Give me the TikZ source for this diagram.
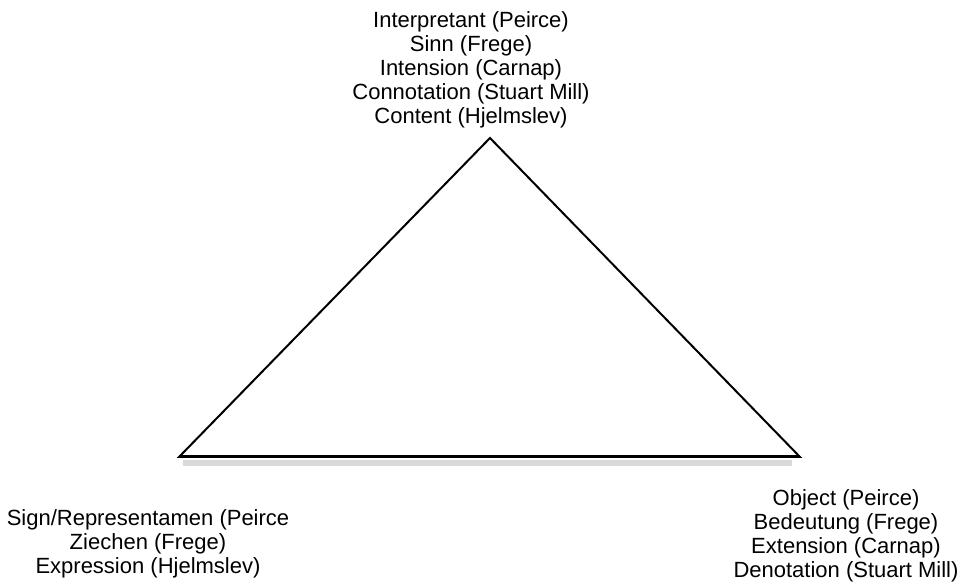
\documentclass[tikz,border=0pt]{standalone}
\usepackage{fontspec}
\setmainfont{Liberation Sans}
\tikzset{
  corner/.style={align=center, anchor=base, inner sep=0pt,
    font=\fontsize{22}{24}\selectfont},
}
\begin{document}
\begin{tikzpicture}[x=1pt,y=-1pt]
    \useasboundingbox (0,0) rectangle (962,585);
    % corners of the triangle
    \coordinate (apex) at (490,138);
    \coordinate (left) at (179,457);
    \coordinate (right) at (800,457);
    % shadow under the base
    \draw[gray!30, line width=5pt] ([xshift=4pt,yshift=-6pt]left) -- ([xshift=-8pt,yshift=-6pt]right);
    \draw[line width=2pt, line join=miter] (apex) -- (left) -- (right) -- cycle;
    \draw[line width=3pt] (left) -- (right);
    % labels, placed by the baseline of their last line
    \node[corner] (interp) at (471,124) {Interpretant (Peirce)\\Sinn (Frege)\\Intension (Carnap)\\Connotation (Stuart Mill)\\Content (Hjelmslev)};
    \node[corner] (sign) at (148,573) {Sign/Representamen (Peirce\\Ziechen (Frege)\\Expression (Hjelmslev)};
    \node[corner] (object) at (846,577) {Object (Peirce)\\Bedeutung (Frege)\\Extension (Carnap)\\Denotation (Stuart Mill)};
\end{tikzpicture}
\end{document}
